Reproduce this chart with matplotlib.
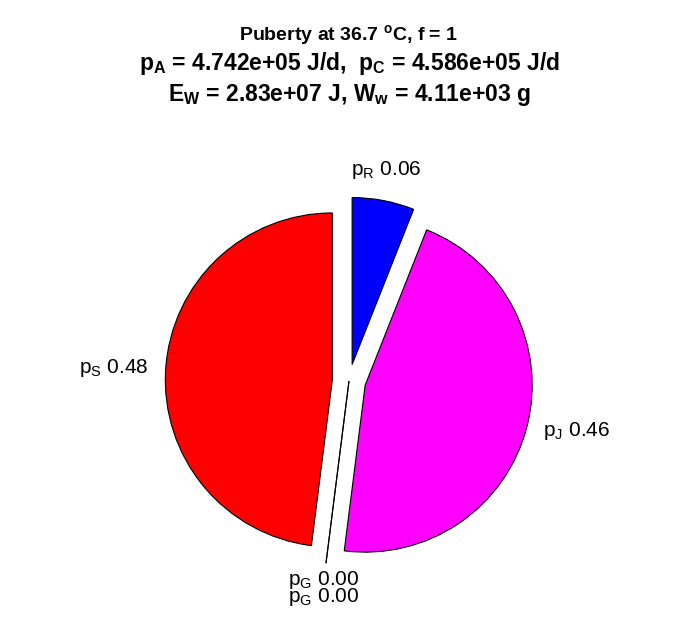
import numpy as np
import matplotlib.pyplot as plt

plt.rcParams['font.family'] = ['Liberation Sans', 'DejaVu Sans']
plt.rcParams['mathtext.fontset'] = 'custom'
plt.rcParams['mathtext.rm'] = 'Liberation Sans'
plt.rcParams['mathtext.it'] = 'Liberation Sans'
plt.rcParams['mathtext.bf'] = 'Liberation Sans:bold'

# pie data
names = ['R', 'J', 'G', 'G', 'S']
fractions = [0.06, 0.46, 0.00, 0.00, 0.48]
colors = ['#0000FF', '#FF00FF', '#FFFFFF', '#FFFFFF', '#FF0000']

title_lines = [
    r'Puberty at 36.7 $^{\mathbf{o}}$C, f = 1',
    r'p$_{\mathbf{A}}$ = 4.742e+05 J/d,  p$_{\mathbf{C}}$ = 4.586e+05 J/d',
    r'E$_{\mathbf{W}}$ = 2.83e+07 J, W$_{\mathbf{w}}$ = 4.11e+03 g',
]
title_sizes = [14, 16.5, 16.5]
title_y = [40, 70, 101]

W, H = 696, 618
cx, cy, r = 349, 381, 167  # pie centre / radius in pixels

fig = plt.figure(figsize=(W / 100, H / 100), dpi=100)
ax = fig.add_axes([0, 0, 1, 1])

labels = ['p$_{\\mathrm{%s}}$ %.2f' % (n, f) for n, f in zip(names, fractions)]
wedges, texts = ax.pie(fractions, colors=colors, explode=[0.1] * len(fractions),
                       startangle=90, counterclock=False, radius=1,
                       labels=labels, labeldistance=1.1,
                       wedgeprops=dict(edgecolor='black', linewidth=0.8),
                       textprops=dict(fontsize=15), frame=True)
ax.set_xlim(-cx / r, (W - cx) / r)
ax.set_ylim(-(H - cy) / r, cy / r)
ax.set_aspect('equal')
ax.axis('off')

# zero-size wedges: draw as a line from the centre
seen = {}
for w, t, f in zip(wedges, texts, fractions):
    if f == 0:
        w.set_center((0, 0))
        w.set_radius(1.1)
    x, y = t.get_position()
    ang = np.arctan2(y, x)
    if abs(np.cos(ang)) < 0.3:
        t.set_ha('center')
    if np.sin(ang) > 0.9:
        t.set_va('bottom')
        t.set_position((x, y + 0.02))
    key = (round(x, 3), round(y, 3))
    if key in seen:
        seen[key] += 1
        t.set_position((x, y - 0.105 * seen[key]))
    else:
        seen[key] = 0

for line, yp, fs in zip(title_lines, title_y, title_sizes):
    fig.text(cx / W, 1 - yp / H, line, ha='center', va='baseline',
             fontsize=fs, fontweight='bold')

fig.savefig('out.png', dpi=100)
